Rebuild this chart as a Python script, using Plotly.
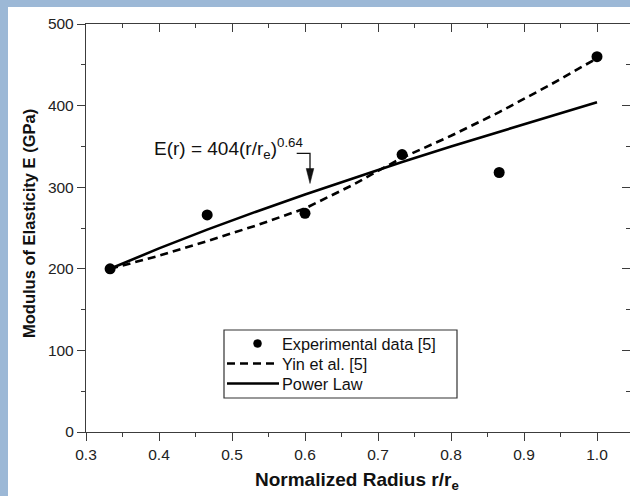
import plotly.graph_objects as go

# Measured modulus of elasticity vs. normalized radius
radius_exp = [0.333, 0.466, 0.600, 0.733, 0.866, 1.000]
modulus_exp = [200, 266, 268, 340, 318, 460]

# Yin et al. model curve
radius_yin = [0.333, 0.400, 0.466, 0.533, 0.600, 0.666, 0.700, 0.733, 0.800, 0.866, 0.933, 1.000]
modulus_yin = [200, 216, 234, 253, 274, 303, 320, 336, 363, 392, 424, 458]

# Power-law fit E(r) = 404 (r/re)^0.64
radius_pow = [0.333, 0.400, 0.466, 0.533, 0.600, 0.666, 0.733, 0.800, 0.866, 0.933, 1.000]
modulus_pow = [200, 225, 248, 270, 291, 311, 331, 350, 368, 386, 404]

x_major = [0.3, 0.4, 0.5, 0.6, 0.7, 0.8, 0.9, 1.0]
x_labels = ["0.3", "0.4", "0.5", "0.6", "0.7", "0.8", "0.9", "1.0"]
x_minor = [0.35, 0.45, 0.55, 0.65, 0.75, 0.85, 0.95]
y_major = [0, 100, 200, 300, 400, 500]
y_labels = ["0", "100", "200", "300", "400", "500"]
y_minor = [50, 150, 250, 350, 450]

legend_names = ["Experimental data [5]", "Yin et al. [5]", "Power Law"]

FONT = "Liberation Sans, Arial, sans-serif"
AXIS = "#3c3c3c"
INK = "#111111"
FRAME_BLUE = "#9cb8d6"
DASH = "8px,5px"

W, H = 630, 496
ML, MR, MT, MB = 86, 0, 24, 64
PW, PH = W - ML - MR, H - MT - MB


def px_x(px):
    return (px - ML) / PW


def px_y(py):
    return (H - MB - py) / PH


fig = go.Figure()

fig.add_trace(go.Scatter(
    x=radius_yin, y=modulus_yin, mode="lines", name=legend_names[1],
    line=dict(color="black", width=2.6, dash=DASH),
))
fig.add_trace(go.Scatter(
    x=radius_pow, y=modulus_pow, mode="lines", name=legend_names[2],
    line=dict(color="black", width=2.6),
))
fig.add_trace(go.Scatter(
    x=radius_exp, y=modulus_exp, mode="markers", name=legend_names[0],
    marker=dict(color="black", size=11),
))
# carrier for the top and right frame axes
fig.add_trace(go.Scatter(
    x=radius_exp, y=modulus_exp, xaxis="x2", yaxis="y2", mode="markers",
    marker=dict(opacity=0), hoverinfo="skip",
))

common = dict(showgrid=False, zeroline=False, tickcolor=AXIS, tickwidth=1.3,
              linecolor=AXIS, linewidth=1.3)
x_range = [0.3, 0.3 + PW / 730.0]

fig.update_layout(
    width=W, height=H,
    margin=dict(l=ML, r=MR, t=MT, b=MB, pad=0),
    paper_bgcolor=FRAME_BLUE, plot_bgcolor="white",
    font=dict(family=FONT, size=16, color=INK),
    showlegend=False,
    xaxis=dict(range=x_range, tickmode="array", tickvals=x_major, ticktext=x_labels,
               ticks="outside", ticklen=8, showline=True,
               minor=dict(tickmode="array", tickvals=x_minor, ticks="outside", ticklen=4,
                          tickcolor=AXIS, tickwidth=1.3),
               tickfont=dict(size=15.5, color="#222"), **common),
    xaxis2=dict(range=x_range, overlaying="x", side="top", tickmode="array", tickvals=x_major,
                ticks="inside", ticklen=8, showline=True, showticklabels=False,
                minor=dict(tickmode="array", tickvals=x_minor, ticks="inside", ticklen=4,
                           tickcolor=AXIS, tickwidth=1.3), **common),
    yaxis=dict(range=[0, 500], tickmode="array", tickvals=y_major, ticktext=y_labels,
               ticks="outside", ticklen=8, showline=True,
               minor=dict(tickmode="array", tickvals=y_minor, ticks="outside", ticklen=4,
                          tickcolor=AXIS, tickwidth=1.3),
               tickfont=dict(size=15.5, color="#222"), **common),
    yaxis2=dict(range=[0, 500], overlaying="y", side="right", tickmode="array", tickvals=y_major,
                ticks="inside", ticklen=8, showline=False, showticklabels=False,
                minor=dict(tickmode="array", tickvals=y_minor, ticks="inside", ticklen=4,
                           tickcolor=AXIS, tickwidth=1.3), **common),
)

# white page panel inside the blue frame
fig.add_shape(type="rect", xref="paper", yref="paper", layer="below",
              x0=px_x(8), x1=px_x(W + 10), y0=px_y(H + 10), y1=px_y(7),
              fillcolor="white", line=dict(width=0))

# axis titles
fig.add_annotation(xref="paper", yref="paper", x=px_x(356.5), y=px_y(481),
                   text="<b>Normalized Radius r/r<sub>e</sub></b>", showarrow=False,
                   xanchor="center", yanchor="middle", font=dict(size=19, color=INK))
fig.add_annotation(xref="paper", yref="paper", x=px_x(29), y=px_y(224),
                   text="<b>Modulus of Elasticity E (GPa)</b>", showarrow=False, textangle=-90,
                   xanchor="center", yanchor="middle", font=dict(size=16.5, color=INK))

# power-law label with elbow arrow
fig.add_annotation(xref="paper", yref="paper", x=px_x(152), y=px_y(148),
                   text="E(r) = 404(r/r<sub>e</sub>)<sup>0.64</sup>", showarrow=False,
                   xanchor="left", yanchor="middle", font=dict(size=19, color=INK))
fig.add_shape(type="path", xref="paper", yref="paper",
              path=f"M{px_x(296.7)},{px_y(153.3)} L{px_x(310)},{px_y(153.3)} L{px_x(310)},{px_y(170)}",
              line=dict(color=INK, width=1.3))
fig.add_shape(type="path", xref="paper", yref="paper",
              path=(f"M{px_x(306.2)},{px_y(168.5)} L{px_x(313.8)},{px_y(168.5)} "
                    f"L{px_x(310)},{px_y(183.5)} Z"),
              fillcolor=INK, line=dict(color=INK, width=0.5))

# legend box
LX0, LX1, LY0, LY1 = 224, 457, 330, 398
fig.add_shape(type="rect", xref="paper", yref="paper",
              x0=px_x(LX0), x1=px_x(LX1), y0=px_y(LY1), y1=px_y(LY0),
              fillcolor="white", line=dict(color="#333", width=1.2))
row_y = [343.5, 363.5, 383.5]
# marker sample
fig.add_shape(type="circle", xref="paper", yref="paper",
              x0=px_x(253.5), x1=px_x(261.5), y0=px_y(row_y[0] + 4), y1=px_y(row_y[0] - 4),
              fillcolor="black", line=dict(color="black", width=0.5))
# dashed and solid line samples
fig.add_shape(type="line", xref="paper", yref="paper",
              x0=px_x(227), x1=px_x(279), y0=px_y(row_y[1]), y1=px_y(row_y[1]),
              line=dict(color="black", width=2.6, dash=DASH))
fig.add_shape(type="line", xref="paper", yref="paper",
              x0=px_x(227), x1=px_x(279), y0=px_y(row_y[2]), y1=px_y(row_y[2]),
              line=dict(color="black", width=2.6))
for name, ry in zip(legend_names, row_y):
    fig.add_annotation(xref="paper", yref="paper", x=px_x(280), y=px_y(ry),
                       text=name, showarrow=False, xanchor="left", yanchor="middle",
                       font=dict(size=16.3, color=INK))

fig.write_html("out.html")
